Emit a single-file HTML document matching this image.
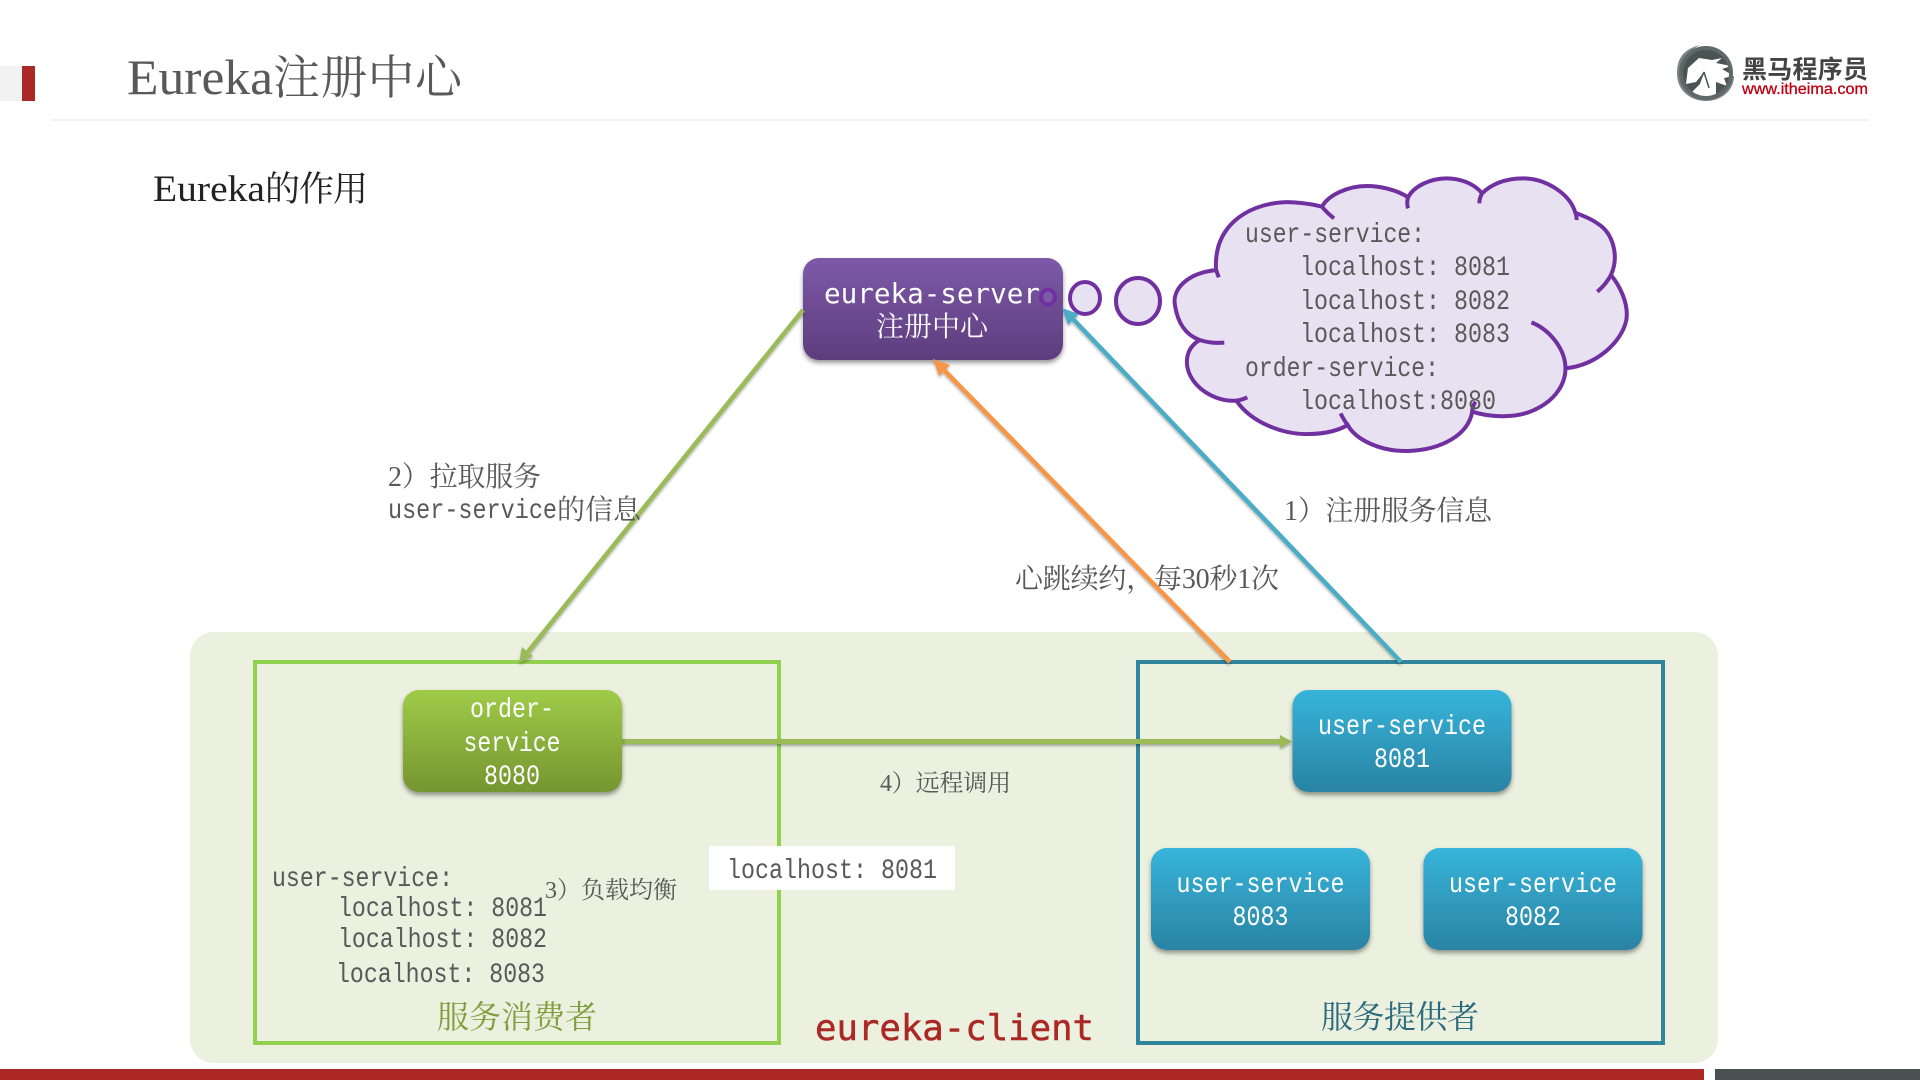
<!DOCTYPE html>
<html><head><meta charset="utf-8"><title>Eureka注册中心</title>
<style>
html,body{margin:0;padding:0;background:#fff;width:1920px;height:1080px;overflow:hidden}
svg{display:block}
text{font-family:"Liberation Serif","Noto Serif CJK SC",serif;white-space:pre}
.l{font-family:"Liberation Serif",serif}
.g{fill:#595959;font-size:28px;font-family:"Liberation Mono",monospace}
.gc{fill:#595959;font-size:28px}
.w{fill:#fff;font-size:28px;text-anchor:middle;font-family:"Liberation Mono",monospace}
.m{font-family:"DejaVu Sans Mono","Liberation Mono",monospace}
</style></head><body>
<svg width="1920" height="1080" viewBox="0 0 1920 1080" xmlns="http://www.w3.org/2000/svg">
<defs>
<linearGradient id="pu" x1="0" y1="0" x2="0" y2="1"><stop offset="0" stop-color="#7d59a8"/><stop offset="1" stop-color="#5d3d7d"/></linearGradient>
<linearGradient id="gr" x1="0" y1="0" x2="0" y2="1"><stop offset="0" stop-color="#9fcb48"/><stop offset="1" stop-color="#759530"/></linearGradient>
<linearGradient id="bl" x1="0" y1="0" x2="0" y2="1"><stop offset="0" stop-color="#37b4da"/><stop offset="1" stop-color="#2983a3"/></linearGradient>
<filter id="sh" x="-10%" y="-10%" width="120%" height="130%"><feDropShadow dx="0" dy="3" stdDeviation="2.5" flood-color="#000" flood-opacity=".4"/></filter>
<filter id="ls" x="-5%" y="-5%" width="110%" height="110%"><feDropShadow dx="0" dy="2" stdDeviation="1.2" flood-color="#000" flood-opacity=".3"/></filter>
</defs>

<!-- header -->
<rect x="0" y="66" width="22" height="35" fill="#f2f2f2"/>
<rect x="22" y="66" width="13" height="35" fill="#ab2825"/>
<rect x="51" y="119" width="1818" height="2" fill="#f2f2f2"/>
<text class="l" x="127" y="94" font-size="50" fill="#595959" textLength="146" lengthAdjust="spacingAndGlyphs">Eureka</text>
<text x="273" y="94" font-size="47" fill="#595959" textLength="189">注册中心</text>
<text class="l" x="153" y="201" font-size="37" fill="#222" textLength="112" lengthAdjust="spacingAndGlyphs">Eureka</text>
<text x="265" y="201" font-size="35" fill="#222" textLength="103">的作用</text>

<!-- logo -->
<path d="M1700,45 C1680,50 1677,62 1677,74 C1677,90 1690,101 1706,101 C1722,101 1734,90 1734,76 L1726,76 C1726,88 1716,96 1704,96 C1690,96 1682,86 1682,72 C1682,60 1690,50 1700,45Z" fill="#7d8585"/>
<circle cx="1706" cy="73" r="25" fill="#4b5454"/>
<path d="M1686,84 L1688,68 L1699,58 L1712,60 L1722,58 L1716,63 L1731,66 L1722,69 L1734,76 L1724,78 L1727,86 L1716,82 L1716,98 L1696,98 L1690,94 L1700,84 L1704,72 L1696,82Z" fill="#fff"/>
<path d="M1704,72 L1698,85 M1704,72 L1709,88" stroke="#4b5454" stroke-width="1.5" fill="none"/>
<circle cx="1706" cy="73" r="25" fill="none" stroke="#5f6868" stroke-width="4"/>
<text x="1742" y="78" font-size="25" font-weight="700" fill="#444" textLength="126" style="font-family:'Noto Sans CJK SC','Liberation Sans',sans-serif">黑马程序员</text>
<text x="1742" y="94" font-size="16" fill="#c00010" stroke="#c00010" stroke-width=".3" textLength="126" lengthAdjust="spacingAndGlyphs" style="font-family:'Liberation Sans',sans-serif">www.itheima.com</text>

<!-- client panel -->
<rect x="190" y="632" width="1528" height="431" rx="24" fill="#ebf0df"/>
<rect x="255" y="662" width="524" height="381" fill="none" stroke="#92d050" stroke-width="4"/>
<rect x="1138" y="662" width="525" height="381" fill="none" stroke="#31859c" stroke-width="4"/>

<!-- cloud -->
<g transform="translate(780,160) scale(.5485,.33333)" stroke="#7030a0" stroke-width="4" fill="#e8e1f1">
<path vector-effect="non-scaling-stroke" d="M795,330 C740,340 715,390 720,435 C725,490 740,525 765,540 C735,570 735,630 760,675 C780,710 810,725 832,722 C860,790 920,825 965,822 C995,822 1020,810 1035,795 C1050,840 1095,875 1145,873 C1205,870 1255,825 1262,755 C1290,770 1340,778 1375,750 C1415,720 1432,670 1432,625 C1490,615 1535,545 1543,480 C1548,430 1530,375 1515,345 C1530,290 1520,220 1490,190 C1478,175 1460,165 1450,158 C1440,100 1395,55 1355,55 C1320,55 1295,75 1280,100 C1265,70 1240,55 1215,55 C1185,55 1155,80 1145,112 C1125,90 1095,78 1070,78 C1035,78 1000,105 988,140 C965,130 935,125 915,127 C850,135 790,200 795,330 Z"/>
<g fill="none">
<path vector-effect="non-scaling-stroke" d="M795,330 L800,352"/>
<path vector-effect="non-scaling-stroke" d="M765,540 C780,548 795,550 810,548"/>
<path vector-effect="non-scaling-stroke" d="M832,722 Q842,720 852,712"/>
<path vector-effect="non-scaling-stroke" d="M1035,795 Q1028,780 1022,760"/>
<path vector-effect="non-scaling-stroke" d="M1262,755 Q1262,740 1268,725"/>
<path vector-effect="non-scaling-stroke" d="M1432,625 C1432,570 1405,510 1370,487"/>
<path vector-effect="non-scaling-stroke" d="M1515,345 Q1505,375 1490,395"/>
<path vector-effect="non-scaling-stroke" d="M1450,158 Q1453,170 1452,180"/>
<path vector-effect="non-scaling-stroke" d="M1280,100 Q1275,115 1275,130"/>
<path vector-effect="non-scaling-stroke" d="M1145,112 Q1142,130 1145,145"/>
<path vector-effect="non-scaling-stroke" d="M988,140 Q998,160 1010,175"/>
</g>
</g>
<ellipse cx="1138" cy="301" rx="22" ry="23" fill="#e8e1f1" stroke="#7030a0" stroke-width="4"/>
<ellipse cx="1085" cy="298" rx="15" ry="16" fill="#e8e1f1" stroke="#7030a0" stroke-width="4"/>

<!-- server node -->
<rect x="803" y="258" width="260" height="102" rx="16" fill="url(#pu)" filter="url(#sh)"/>
<text x="824" y="303" font-size="28" fill="#fff" class="m" textLength="216" lengthAdjust="spacingAndGlyphs">eureka-server</text>
<text x="932" y="336" font-size="28" fill="#fff" text-anchor="middle">注册中心</text>
<ellipse cx="1048" cy="297" rx="7" ry="7.500" fill="#7b5aa6" stroke="#7030a0" stroke-width="4"/>

<!-- cloud text -->
<text class="g" x="1245" y="242" textLength="180" lengthAdjust="spacingAndGlyphs">user-service:</text>
<text class="g" x="1300" y="275" textLength="210" lengthAdjust="spacingAndGlyphs">localhost: 8081</text>
<text class="g" x="1300" y="309" textLength="210" lengthAdjust="spacingAndGlyphs">localhost: 8082</text>
<text class="g" x="1300" y="342" textLength="210" lengthAdjust="spacingAndGlyphs">localhost: 8083</text>
<text class="g" x="1245" y="376" textLength="194" lengthAdjust="spacingAndGlyphs">order-service:</text>
<text class="g" x="1300" y="409" textLength="196" lengthAdjust="spacingAndGlyphs">localhost:8080</text>

<!-- connectors -->
<g filter="url(#ls)">
<line x1="803" y1="310" x2="527" y2="653" stroke="#9bbb59" stroke-width="4.500"/>
<polygon points="519,663 522,647 533,656" fill="#9bbb59"/>
<line x1="1230" y1="662" x2="944" y2="370" stroke="#f79646" stroke-width="4.500"/>
<polygon points="933,359 950,365 939,376" fill="#f79646"/>
<line x1="1401" y1="662" x2="1073" y2="319" stroke="#4bacc6" stroke-width="4.500"/>
<polygon points="1062,308 1079,314 1068,325" fill="#4bacc6"/>
<line x1="621" y1="741.500" x2="1282" y2="741.500" stroke="#9bbb59" stroke-width="5"/>
<polygon points="1292,741.500 1280,735 1280,748" fill="#9bbb59"/>
</g>

<!-- service nodes -->
<rect x="403" y="690" width="219" height="102" rx="16" fill="url(#gr)" filter="url(#sh)"/>
<text class="w" x="512" y="717" textLength="84" lengthAdjust="spacingAndGlyphs">order-</text>
<text class="w" x="512" y="751" textLength="97" lengthAdjust="spacingAndGlyphs">service</text>
<text class="w" x="512" y="784" textLength="56" lengthAdjust="spacingAndGlyphs">8080</text>

<rect x="1292.500" y="690" width="219" height="102" rx="16" fill="url(#bl)" filter="url(#sh)"/>
<text class="w" x="1402" y="734" textLength="168" lengthAdjust="spacingAndGlyphs">user-service</text>
<text class="w" x="1402" y="767" textLength="56" lengthAdjust="spacingAndGlyphs">8081</text>

<rect x="1151" y="848" width="219" height="102" rx="16" fill="url(#bl)" filter="url(#sh)"/>
<text class="w" x="1260.500" y="892" textLength="168" lengthAdjust="spacingAndGlyphs">user-service</text>
<text class="w" x="1260.500" y="925" textLength="56" lengthAdjust="spacingAndGlyphs">8083</text>

<rect x="1423.500" y="848" width="219" height="102" rx="16" fill="url(#bl)" filter="url(#sh)"/>
<text class="w" x="1533" y="892" textLength="168" lengthAdjust="spacingAndGlyphs">user-service</text>
<text class="w" x="1533" y="925" textLength="56" lengthAdjust="spacingAndGlyphs">8082</text>

<!-- left box text -->
<text class="g" x="272" y="886" textLength="181" lengthAdjust="spacingAndGlyphs">user-service:</text>
<text class="g" x="338" y="916" textLength="209" lengthAdjust="spacingAndGlyphs">localhost: 8081</text>
<text class="g" x="338" y="947" textLength="209" lengthAdjust="spacingAndGlyphs">localhost: 8082</text>
<text class="g" x="336" y="982" textLength="209" lengthAdjust="spacingAndGlyphs">localhost: 8083</text>
<text x="545" y="898" font-size="24" fill="#595959" textLength="132">3）负载均衡</text>
<text x="437" y="1028" font-size="32" fill="#7f9f3f" textLength="160">服务消费者</text>
<text x="1321" y="1028" font-size="32" fill="#2b6a7c" textLength="158">服务提供者</text>
<text x="815" y="1040" font-size="36" fill="#ab2825" stroke="#ab2825" stroke-width=".5" class="m" textLength="279" lengthAdjust="spacingAndGlyphs">eureka-client</text>

<!-- white label -->
<rect x="709" y="846" width="246" height="44" fill="#fff"/>
<text class="g" x="727" y="878" textLength="210" lengthAdjust="spacingAndGlyphs">localhost: 8081</text>

<!-- edge labels -->
<text class="gc" x="388" y="486" textLength="153">2）拉取服务</text>
<text class="g" x="388" y="518" textLength="169" lengthAdjust="spacingAndGlyphs">user-service</text>
<text class="gc" x="557" y="519" textLength="84">的信息</text>
<text class="gc" x="1284" y="520" textLength="208">1）注册服务信息</text>
<text class="gc" x="1015" y="588" textLength="264">心跳续约，每30秒1次</text>
<text x="880" y="791" font-size="24" fill="#595959" textLength="131">4）远程调用</text>

<!-- footer -->
<rect x="0" y="1069" width="1704" height="11" fill="#ab2825"/>
<rect x="1715" y="1069" width="205" height="11" fill="#4a5151"/>
</svg>
</body></html>
